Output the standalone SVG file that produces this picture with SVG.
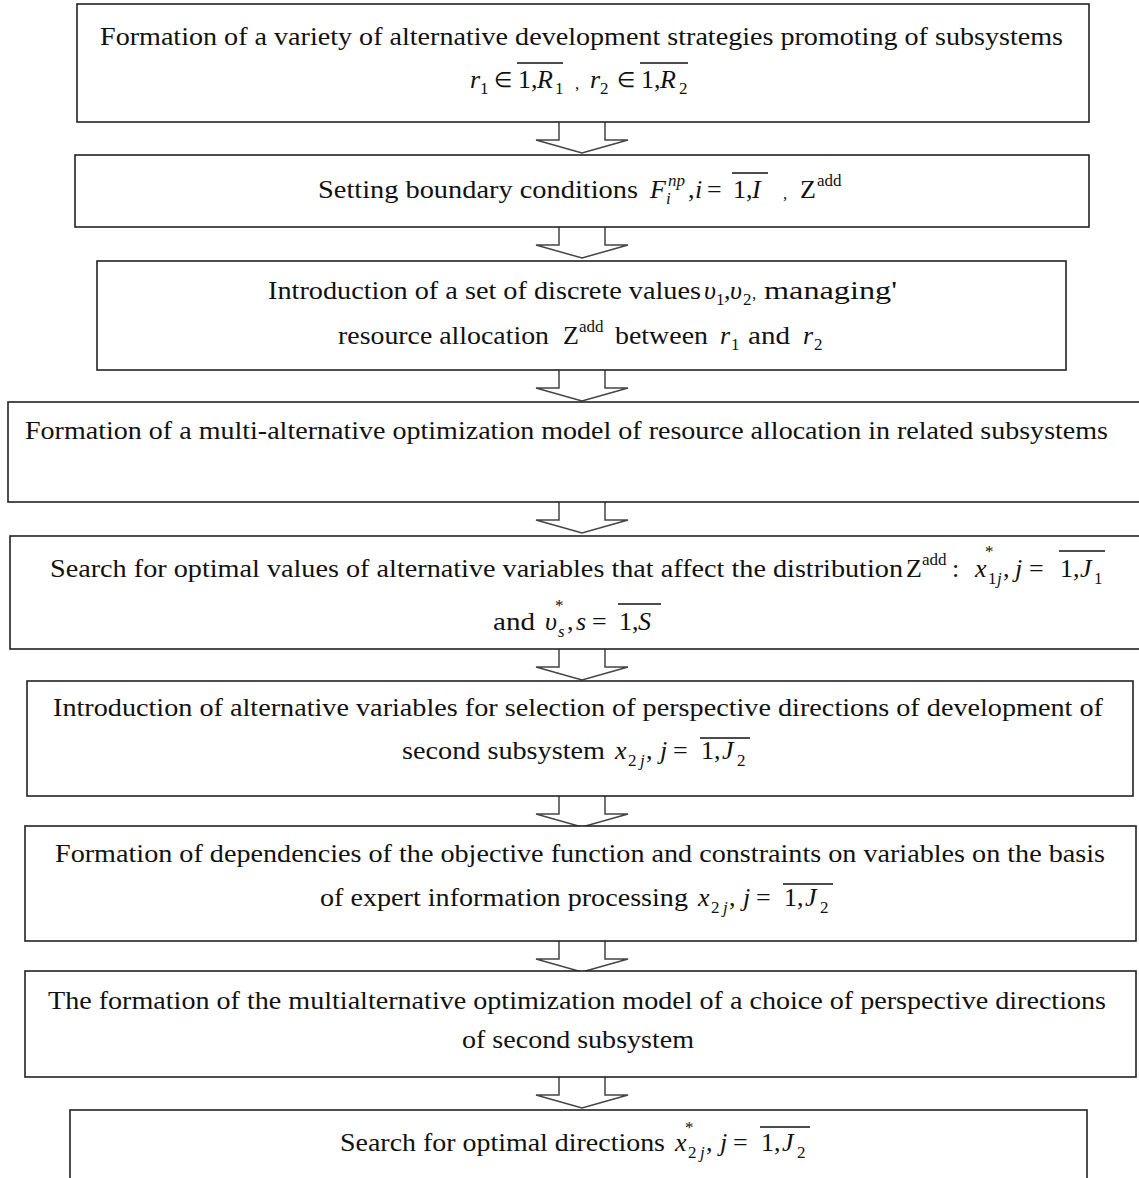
<svg xmlns="http://www.w3.org/2000/svg" width="1139" height="1178" viewBox="0 0 1139 1178">
<style>
.bx{fill:#fff;stroke:#222;stroke-width:1.6}
.ar{fill:#fff;stroke:#444;stroke-width:1.5;stroke-linejoin:miter}
.t{font-family:"Liberation Serif","Times New Roman",serif;font-size:26px;fill:#111}
.m{font-style:italic}
.s{font-family:"Liberation Serif","Times New Roman",serif;font-size:17px;fill:#111}
.e{font-family:"Liberation Serif","Times New Roman",serif;font-size:21px;fill:#111}
.ol{stroke:#111;stroke-width:1.4}
</style>
<rect width="1139" height="1178" fill="#fff"/>
<defs>
<path id="arr" d="M-23,0 V18 H-46 L0,31 L46,18 H23 V0"/>
</defs>
<g id="connectors">
<use href="#arr" x="582" y="122" class="ar"/>
<use href="#arr" x="582" y="227" class="ar"/>
<use href="#arr" x="582" y="370" class="ar"/>
<use href="#arr" x="582" y="502" class="ar"/>
<use href="#arr" x="582" y="649" class="ar"/>
<use href="#arr" x="582" y="796" class="ar"/>
<use href="#arr" x="582" y="941" class="ar"/>
<use href="#arr" x="582" y="1077" class="ar"/>
</g>
<g id="n1">
<rect class="bx" x="77" y="4" width="1012" height="118"/>
<text class="t" x="100" y="45" textLength="963" lengthAdjust="spacingAndGlyphs">Formation of a variety of alternative development strategies promoting of subsystems</text>
<text class="t m" x="470" y="88">r</text><text class="s" x="480" y="94">1</text>
<text class="e" x="494" y="87">∈</text>
<text class="t" x="518" y="88">1,</text><text class="t m" x="537" y="88">R</text><text class="s" x="555" y="94">1</text>
<line class="ol" x1="517" y1="63" x2="563" y2="63"/>
<text class="s" x="575" y="89">,</text>
<text class="t m" x="590" y="88">r</text><text class="s" x="600" y="94">2</text>
<text class="e" x="617" y="87">∈</text>
<text class="t" x="641" y="88">1,</text><text class="t m" x="660" y="88">R</text><text class="s" x="679" y="94">2</text>
<line class="ol" x1="640" y1="63" x2="688" y2="63"/>
</g>
<g id="n2">
<rect class="bx" x="75" y="155" width="1014" height="72"/>
<text class="t" x="318" y="198" textLength="320" lengthAdjust="spacingAndGlyphs">Setting boundary conditions</text>
<text class="t m" x="650" y="198">F</text><text class="s m" x="666" y="204">i</text><text class="s m" x="668" y="186">пр</text>
<text class="t" x="688" y="198">,</text><text class="t m" x="695" y="198">i</text>
<text class="t" x="707" y="198">=</text>
<text class="t" x="733" y="198">1,</text><text class="t m" x="752" y="198">I</text>
<line class="ol" x1="732" y1="173" x2="768" y2="173"/>
<text class="s" x="783" y="199">,</text>
<text class="t" x="800" y="198">Z</text><text class="s" x="817" y="186">add</text>
</g>
<g id="n3">
<rect class="bx" x="97" y="261" width="969" height="109"/>
<text class="t" x="268" y="299" textLength="433" lengthAdjust="spacingAndGlyphs">Introduction of a set of discrete values</text>
<text class="t m" x="704" y="299">υ</text><text class="s" x="716" y="305">1</text>
<text class="t" x="724" y="299">,</text>
<text class="t m" x="730" y="299">υ</text><text class="s" x="743" y="305">2</text>
<text class="s" x="752" y="299">,</text>
<text class="t" x="764" y="299" textLength="133" lengthAdjust="spacingAndGlyphs">managing'</text>
<text class="t" x="338" y="344" textLength="211" lengthAdjust="spacingAndGlyphs">resource allocation</text>
<text class="t" x="563" y="344">Z</text><text class="s" x="579" y="332">add</text>
<text class="t" x="615" y="344" textLength="93" lengthAdjust="spacingAndGlyphs">between</text>
<text class="t m" x="720" y="344">r</text><text class="s" x="731" y="350">1</text>
<text class="t" x="748" y="344" textLength="42" lengthAdjust="spacingAndGlyphs">and</text>
<text class="t m" x="803" y="344">r</text><text class="s" x="814" y="350">2</text>
</g>
<g id="n4">
<rect class="bx" x="8" y="402" width="1140" height="100"/>
<text class="t" x="25" y="439" textLength="1083" lengthAdjust="spacingAndGlyphs">Formation of a multi-alternative optimization model of resource allocation in related subsystems</text>
</g>
<g id="n5">
<rect class="bx" x="10" y="536" width="1140" height="113"/>
<text class="t" x="50" y="577" textLength="853" lengthAdjust="spacingAndGlyphs">Search for optimal values of alternative variables that affect the distribution</text>
<text class="t" x="906" y="577">Z</text><text class="s" x="922" y="565">add</text><text class="t" x="952" y="577">:</text>
<text class="t m" x="975" y="577">x</text><text class="s" x="985" y="557">*</text><text class="s" x="988" y="584">1</text><text class="s m" x="997" y="584">j</text>
<text class="t" x="1003" y="577">,</text>
<text class="t m" x="1015" y="577">j</text>
<text class="t" x="1029" y="577">=</text>
<text class="t" x="1060" y="577">1,</text><text class="t m" x="1080" y="577">J</text><text class="s" x="1094" y="584">1</text>
<line class="ol" x1="1059" y1="551" x2="1105" y2="551"/>
<text class="t" x="493" y="630" textLength="42" lengthAdjust="spacingAndGlyphs">and</text>
<text class="t m" x="545" y="630">υ</text><text class="s" x="555" y="611">*</text><text class="s m" x="558" y="637">s</text>
<text class="t" x="567" y="630">,</text><text class="t m" x="576" y="630">s</text>
<text class="t" x="592" y="630">=</text>
<text class="t" x="619" y="630">1,</text><text class="t m" x="638" y="630">S</text>
<line class="ol" x1="618" y1="604" x2="661" y2="604"/>
</g>
<g id="n6">
<rect class="bx" x="27" y="681" width="1106" height="115"/>
<text class="t" x="53" y="716" textLength="1050" lengthAdjust="spacingAndGlyphs">Introduction of alternative variables for selection of perspective directions of development of</text>
<text class="t" x="402" y="759" textLength="203" lengthAdjust="spacingAndGlyphs">second subsystem</text>
<text class="t m" x="615" y="759">x</text><text class="s" x="628" y="766">2</text><text class="s m" x="640" y="766">j</text>
<text class="t" x="646" y="759">,</text>
<text class="t m" x="660" y="759">j</text>
<text class="t" x="673" y="759">=</text>
<text class="t" x="701" y="759">1,</text><text class="t m" x="722" y="759">J</text><text class="s" x="737" y="766">2</text>
<line class="ol" x1="700" y1="738" x2="750" y2="738"/>
</g>
<g id="n7">
<rect class="bx" x="25" y="826" width="1111" height="115"/>
<text class="t" x="55" y="862" textLength="1050" lengthAdjust="spacingAndGlyphs">Formation of dependencies of the objective function and constraints on variables on the basis</text>
<text class="t" x="320" y="906" textLength="368" lengthAdjust="spacingAndGlyphs">of expert information processing</text>
<text class="t m" x="698" y="906">x</text><text class="s" x="711" y="913">2</text><text class="s m" x="723" y="913">j</text>
<text class="t" x="729" y="906">,</text>
<text class="t m" x="743" y="906">j</text>
<text class="t" x="756" y="906">=</text>
<text class="t" x="784" y="906">1,</text><text class="t m" x="805" y="906">J</text><text class="s" x="820" y="913">2</text>
<line class="ol" x1="783" y1="884" x2="833" y2="884"/>
</g>
<g id="n8">
<rect class="bx" x="25" y="971" width="1111" height="106"/>
<text class="t" x="48" y="1009" textLength="1058" lengthAdjust="spacingAndGlyphs">The formation of the multialternative optimization model of a choice of perspective directions</text>
<text class="t" x="462" y="1048" textLength="232" lengthAdjust="spacingAndGlyphs">of second subsystem</text>
</g>
<g id="n9">
<rect class="bx" x="70" y="1110" width="1017" height="80"/>
<text class="t" x="340" y="1151" textLength="325" lengthAdjust="spacingAndGlyphs">Search for optimal directions</text>
<text class="t m" x="675" y="1151">x</text><text class="s" x="685" y="1133">*</text><text class="s" x="688" y="1158">2</text><text class="s m" x="700" y="1158">j</text>
<text class="t" x="706" y="1151">,</text>
<text class="t m" x="720" y="1151">j</text>
<text class="t" x="733" y="1151">=</text>
<text class="t" x="761" y="1151">1,</text><text class="t m" x="782" y="1151">J</text><text class="s" x="797" y="1158">2</text>
<line class="ol" x1="760" y1="1127" x2="810" y2="1127"/>
</g>
</svg>
